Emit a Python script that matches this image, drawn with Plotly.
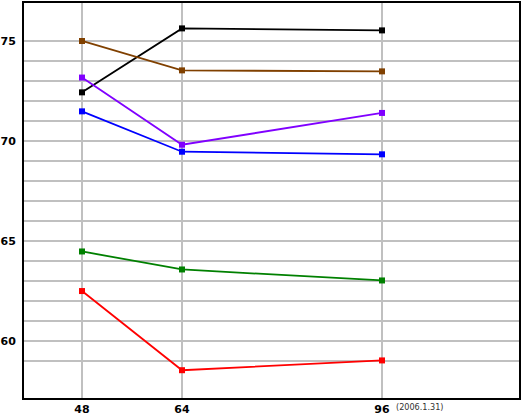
import plotly.graph_objects as go

x_vals = [48, 64, 96]
black = [72.43, 75.63, 75.53]
brown = [75.0, 73.53, 73.48]
purple = [73.17, 69.81, 71.4]
blue = [71.48, 69.46, 69.33]
green = [64.47, 63.57, 63.02]
red = [62.49, 58.53, 59.02]

series = [
    (black, "#000000"),
    (brown, "#804000"),
    (purple, "#8000ff"),
    (blue, "#0000ff"),
    (green, "#008000"),
    (red, "#ff0000"),
]

y_grid = list(range(59, 76))
y_text = [str(v) if v % 5 == 0 else "" for v in y_grid]
x_text = ["48", "64", "96"]

fig = go.Figure()
for vals, col in series:
    fig.add_trace(go.Scatter(
        x=x_vals, y=vals, mode="lines+markers",
        line=dict(color=col, width=1.8),
        marker=dict(symbol="square", size=6, color=col),
        showlegend=False, hoverinfo="skip", cliponaxis=False))

fig.update_layout(
    width=526, height=420,
    margin=dict(l=24, r=7, t=3, b=22, autoexpand=False),
    paper_bgcolor="white", plot_bgcolor="white",
    font=dict(family="DejaVu Sans", size=11, color="#000000"),
)
fig.update_xaxes(
    range=[38.72, 117.92], tickmode="array", tickvals=x_vals, ticktext=x_text,
    showgrid=True, gridcolor="#c0c0c0", gridwidth=2, zeroline=False,
    showline=True, linecolor="#000000", linewidth=2, mirror=True,
    ticks="", automargin=False, ticklabelstandoff=0,
    tickfont=dict(family="DejaVu Sans", size=11, weight="bold"),
)
fig.update_yaxes(
    range=[57.14, 76.9], tickmode="array", tickvals=y_grid, ticktext=y_text,
    showgrid=True, gridcolor="#c0c0c0", gridwidth=2, zeroline=False,
    showline=True, linecolor="#000000", linewidth=2, mirror=True,
    ticks="", ticklabelstandoff=4, automargin=False,
    tickfont=dict(family="DejaVu Sans", size=11, weight="bold"),
)
fig.add_annotation(
    x=96, xref="x", y=0, yref="paper", yanchor="top", xanchor="left",
    xshift=12, yshift=-2, showarrow=False, text="(2006.1.31)",
    font=dict(family="Liberation Sans Narrow, DejaVu Sans Condensed", size=9, color="#333333"),
)
fig.write_html("out.html", config={"displayModeBar": False, "staticPlot": True},
               post_script="document.body.style.margin='0';document.body.style.overflow='hidden';")
